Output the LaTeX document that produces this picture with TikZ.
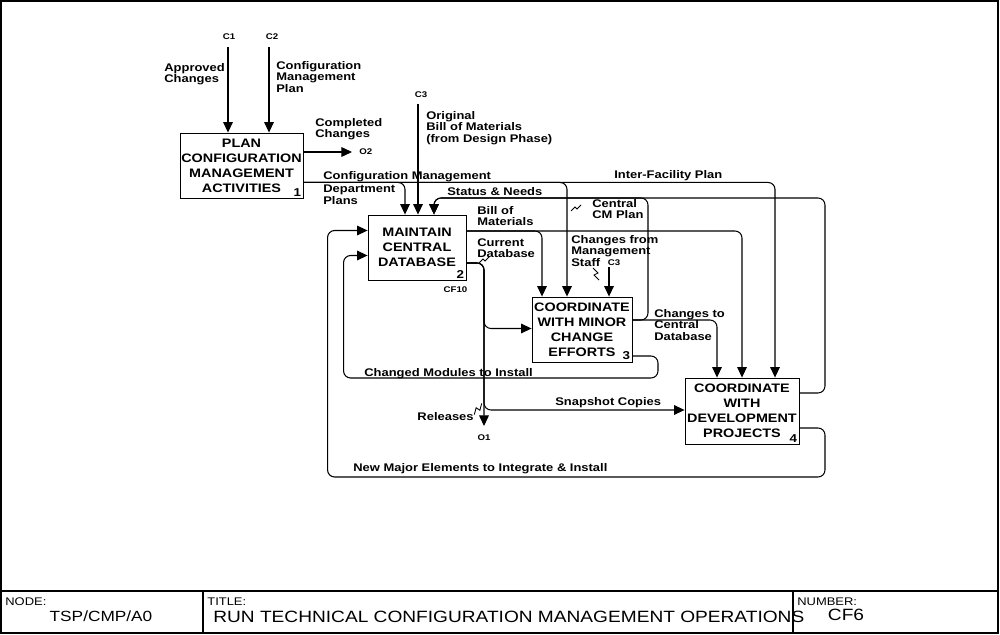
\documentclass[tikz,border=0pt]{standalone}
\usepackage{fontspec}
\setmainfont{Liberation Sans}[FakeStretch=1.17]
\usetikzlibrary{arrows.meta,calc}

\begin{document}
\begin{tikzpicture}[
    x=0.02cm, y=-0.02cm,
    >={Triangle[length=6pt, width=5.5pt]},
    box/.style={draw, line width=0.5pt, inner sep=0pt, align=center,
        font=\fontsize{7}{8.5}\selectfont\bfseries},
    flow/.style={line width=0.6pt, rounded corners=4pt},
    lbl/.style={inner sep=0pt, align=left, font=\fontsize{6.3}{6.6}\selectfont\bfseries},
    tag/.style={inner sep=0pt, font=\fontsize{4.7}{5}\selectfont\bfseries},
    num/.style={inner sep=0pt, font=\fontsize{6.5}{7}\selectfont\bfseries},
    hdr/.style={inner sep=0pt, font=\fontsize{6.3}{7}\selectfont},
    ttl/.style={inner sep=0pt, font=\fontsize{9.3}{10}\selectfont},
    squig/.pic={\draw[line width=0.5pt] (-5,3) -- (-1,-1) -- (1,1) -- (5,-3);},
    vsquig/.pic={\draw[line width=0.5pt] (-3,-6) -- (2,-1) -- (-2,1) -- (3,6);}
]
    \useasboundingbox (0,0) rectangle (1000,635);

    % frame and title block
    \draw[line width=0.6pt] (1,1) rectangle (998,633);
    \draw[line width=0.6pt] (1,591) -- (998,591);
    \draw[line width=0.6pt] (203,591) -- (203,633);
    \draw[line width=0.6pt] (793,591) -- (793,633);
    \node[hdr, anchor=base west] (nodehd) at (5,605) {NODE:};
    \node[ttl, font=\fontsize{8.4}{9}\selectfont] (nodeid) at (101,616) {TSP/CMP/A0};
    \node[hdr, anchor=base west] (titlehd) at (207,605) {TITLE:};
    \node[ttl, anchor=west] (title) at (213,617) {RUN TECHNICAL CONFIGURATION MANAGEMENT OPERATIONS};
    \node[hdr, anchor=base west] (numhd) at (797,605) {NUMBER:};
    \node[ttl] (numid) at (846,615) {CF6};

    % activity boxes
    \node[box, minimum width=2.46cm, minimum height=1.30cm] (plan) at (241.5,165.5)
        {PLAN\\CONFIGURATION\\MANAGEMENT\\ACTIVITIES};
    \node[box, minimum width=1.96cm, minimum height=1.30cm] (maint) at (417,247.5)
        {MAINTAIN\\CENTRAL\\DATABASE};
    \node[box, minimum width=2.00cm, minimum height=1.30cm] (minor) at (582,329.5)
        {COORDINATE\\WITH MINOR\\CHANGE\\EFFORTS};
    \node[box, minimum width=2.28cm, minimum height=1.32cm] (devel) at (742,411)
        {COORDINATE\\WITH\\DEVELOPMENT\\PROJECTS};
    \node[num, anchor=south east] (n1) at ($(plan.south east)+(-2,-2)$) {1};
    \node[num, anchor=south east] (n2) at ($(maint.south east)+(-2,-2)$) {2};
    \node[num, anchor=south east] (n3) at ($(minor.south east)+(-2,-2)$) {3};
    \node[num, anchor=south east] (n4) at ($(devel.south east)+(-2,-2)$) {4};
    \node[tag] (cf10) at ($(maint.south east)+(-11,9)$) {CF10};

    % ports on the boxes
    \coordinate (m1) at ($(maint.north)+(-12,0)$);
    \coordinate (m2) at ($(maint.north)+(1,0)$);
    \coordinate (m3) at ($(maint.north)+(17,0)$);
    \coordinate (m4) at ($(maint.west)+(0,-17)$);
    \coordinate (m5) at ($(maint.west)+(0,8)$);
    \coordinate (m6) at ($(maint.east)+(0,-16.5)$);
    \coordinate (m7) at ($(maint.east)+(0,15.5)$);
    \coordinate (k1) at ($(minor.north)+(-40,0)$);
    \coordinate (k2) at ($(minor.north)+(-15,0)$);
    \coordinate (k3) at ($(minor.north)+(27,0)$);
    \coordinate (k4) at ($(minor.west)+(0,-1)$);
    \coordinate (k5) at ($(minor.east)+(0,-9.5)$);
    \coordinate (k6) at ($(minor.east)+(0,26.5)$);
    \coordinate (d1) at ($(devel.north)+(-25,0)$);
    \coordinate (d2) at ($(devel.north)+(0,0)$);
    \coordinate (d3) at ($(devel.north)+(33,0)$);
    \coordinate (d4) at ($(devel.west)+(0,-1)$);
    \coordinate (d5) at ($(devel.east)+(0,-18)$);
    \coordinate (d6) at ($(devel.east)+(0,17)$);
    \coordinate (p1) at ($(plan.south east)+(0,-16)$);

    % controls and outputs at the border
    \coordinate (c1) at (228,47);
    \coordinate (c2) at (269,47);
    \coordinate (c3) at (418,104);
    \coordinate (c3b) at ($(k3)+(0,-30)$);
    \coordinate (o1) at (484,426);
    \coordinate (o2) at (352,152);
    \node[tag] (c1tag) at (229,37) {C1};
    \node[tag] (c2tag) at (272,37) {C2};
    \node[tag] (c3tag) at (421,95) {C3};
    \node[tag] (c3btag) at (614,263) {C3};
    \node[tag] (o1tag) at (484,438) {O1};
    \node[tag, anchor=west] (o2tag) at (359,152) {O2};

    % bends of the loops
    \coordinate (sn) at (648,198);
    \coordinate (fb) at (825,198);
    \coordinate (cm) at (658,378);
    \coordinate (cmx) at ($(m5)+(-24,0)$);
    \coordinate (nm) at (825,477);
    \coordinate (nmx) at ($(m4)+(-40,0)$);

    % 1. box 1
    \draw[flow,->] (c1) -- (c1 |- plan.north);
    \draw[flow,->] (c2) -- (c2 |- plan.north);
    \draw[flow,->] (o2 -| plan.east) -- (o2);
    \draw[flow,->] (p1) -| (m1);
    \draw[flow,->] (p1) -| (k2);
    \draw[flow,->] (p1) -| (d3);

    % 2. box 2
    \draw[flow,->] (c3) -- (m2);
    \draw[flow,->] (m6) -| (k1);
    \draw[flow,->] (m6) -| (d2);
    \draw[flow,->] (m7) -| (o1);
    \draw[flow,->] (m7) -| (o1 |- k4) -- (k4);
    \draw[flow,->] (m7) -| (o1 |- d4) -- (d4);

    % 3. box 3
    \draw[flow,->] (c3b) -- (k3);
    \draw[flow,->] (k5) -| (sn) -| (m3);
    \draw[flow,->] (k5) -| (d1);
    \draw[flow,->] (k6) -| (cm) -| (cmx) -- (m5);

    % 4. box 4
    \draw[flow,->] (d5) -| (fb) -| (m3);
    \draw[flow,->] (d6) -| (nm) -| (nmx) -- (m4);

    % labels
    \node[lbl, anchor=west] (apch) at (164,74) {Approved\\Changes};
    \node[lbl, anchor=west] (cmplan) at (276,77) {Configuration\\Management\\Plan};
    \node[lbl, anchor=west] (cmpch) at (315,129) {Completed\\Changes};
    \node[lbl, anchor=west] (origbom) at (426,128) {Original\\Bill of Materials\\(from Design Phase)};
    \node[lbl, anchor=base west] (cmdp) at (323,179) {Configuration Management};
    \node[lbl, anchor=north west] (dplans) at (323,185) {Department\\Plans};
    \node[lbl, anchor=base west] (ifplan) at (614,178) {Inter-Facility Plan};
    \node[lbl, anchor=base west] (stneeds) at (447,195) {Status \& Needs};
    \node[lbl, anchor=west] (bom) at (477,216) {Bill of\\Materials};
    \node[lbl, anchor=west] (cdb) at (477,248) {Current\\Database};
    \node[lbl, anchor=west] (ccmp) at (592,209) {Central\\CM Plan};
    \node[lbl, anchor=west] (chms) at (571,251) {Changes from\\Management\\Staff};
    \node[lbl, anchor=west] (chcdb) at (654,325) {Changes to\\Central\\Database};
    \node[lbl, anchor=base west] (chmod) at (364,376) {Changed Modules to Install};
    \node[lbl, anchor=base west] (snap) at (555,405) {Snapshot Copies};
    \node[lbl, anchor=east] (rel) at (474,417) {Releases};
    \node[lbl, anchor=base west] (newmaj) at (353,471) {New Major Elements to Integrate \& Install};

    % squiggles
    \pic at (576,208) {squig};
    \pic at (484,260) {squig};
    \pic at (596,274) {vsquig};
    \pic[rotate=-60] at (478,409) {vsquig};
\end{tikzpicture}
\end{document}
